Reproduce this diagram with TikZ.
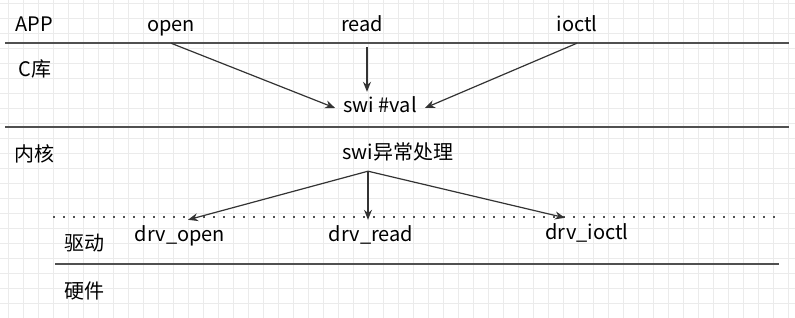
\documentclass[tikz,border=0pt]{standalone}
\usepackage{fontspec}
\setmainfont{Noto Sans CJK SC}
\usetikzlibrary{arrows.meta, positioning, calc}
\definecolor{LayerGray}{HTML}{505050}
\definecolor{ArrowGray}{HTML}{333333}
\definecolor{GridGray}{HTML}{EBEBEB}
\tikzset{
    % Text labels
    every node/.style={font=\fontsize{20}{24}\selectfont},
    label/.style={
        anchor=base,
        inner xsep=8pt,
        inner ysep=6pt,
        text height=15pt,
        text depth=5pt
    },
    % Layer separator
    layer/.style={
        draw=LayerGray,
        line width=1.5pt
    },
    % Dotted separator
    dotline/.style={
        draw=LayerGray,
        line width=1.2pt,
        dash pattern=on 2pt off 8pt
    },
    % Arrow style
    arrow/.style={
        -{Stealth[length=10pt, width=8pt]},
        line width=1.2pt,
        color=ArrowGray
    },
    % Background grid
    gridline/.style={
        draw=GridGray,
        line width=0.8pt
    }
}
\begin{document}
\begin{tikzpicture}[x=1pt, y=-1pt]
        \useasboundingbox (0,0) rectangle (795,318);
        % Grid
        \begin{scope}
            \clip (0,0) rectangle (795,318);
            \draw [gridline, shift={(8,3)}, step=15pt] (-15,-15) grid (800,330);
        \end{scope}

        % Layers
        \draw [layer] (5,43) -- (789,43);
        \draw [layer, line width=1.8pt] (5,127) -- (789,127);
        \draw [dotline] (53,217) -- (777,217);
        \draw [layer, line width=1.3pt] (55,264) -- (779,264);

        % Layer names
        \node (app) [label] at (34,32) {APP};
        \node (clib) [label] at (35,77) {C库};
        \node (kernel) [label] at (34,161) {内核};
        \node (driver) [label] at (84,250) {驱动};
        \node (hardware) [label] at (84,298) {硬件};

        % APP calls
        \node (open) [label] at (171,32) {open};
        \node (read) [label] at (362,32) {read};
        \node (ioctl) [label] at (577,32) {ioctl};

        \node (swi) [label] at (380,113) {swi \#val};
        \node (handler) [label] at (398,160) {swi异常处理};

        % Drivers
        \node (drvopen) [label] at (180,241) {drv\_open};
        \node (drvread) [label] at (371,241) {drv\_read};
        \node (drvioctl) [label] at (587,239) {drv\_ioctl};

        \draw [arrow] (open.south) -- (swi.west);
        \draw [arrow, shorten <=4pt] ([xshift=5pt]read.south) -- ([xshift=5pt]read.south |- swi.north);
        \draw [arrow] (ioctl.south) -- (swi.east);

        \draw [arrow] ([xshift=-30pt]handler.south) -- ([xshift=8pt]drvopen.north);
        \draw [arrow] ([xshift=-30pt]handler.south) -- ([xshift=-30pt]handler.south |- drvread.north);
        \draw [arrow] ([xshift=-30pt]handler.south) -- ([xshift=-22pt]drvioctl.north);
    \end{tikzpicture}
\end{document}
